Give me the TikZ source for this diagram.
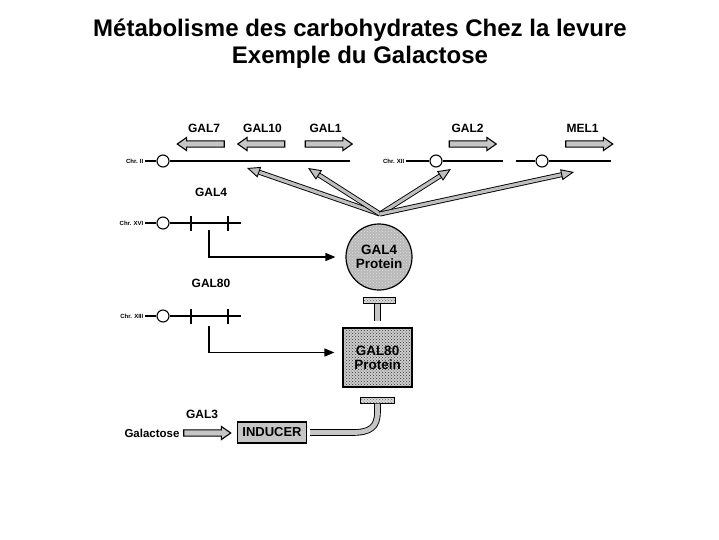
\documentclass[tikz,border=0pt]{standalone}
\usepackage{fontspec}
\setmainfont{Liberation Sans}
\usetikzlibrary{arrows.meta,positioning,shapes.arrows,patterns}

\begin{document}
\begin{tikzpicture}[x=1pt,y=-1pt,>=Latex,
gene/.style={font=\fontsize{12}{14}\selectfont\bfseries},
chr/.style={font=\fontsize{6}{7}\selectfont\bfseries,anchor=east,inner sep=1.5pt},
chrline/.style={line width=1.6pt},
centro/.style={circle,draw,line width=1.1pt,fill=white,minimum size=12pt,inner sep=0pt},
genemark/.style={line width=1.4pt},
genearrow/.style={single arrow,draw,line width=1.1pt,fill=gray!45,inner sep=2.6pt,
  single arrow head extend=3.4pt,single arrow head indent=0pt,single arrow tip angle=70,
  minimum height=47pt},
fat/.style={draw,line width=0.9pt,double=gray!50,double distance=3.2pt},
fatarrow/.style={fat,-{Triangle[length=13pt,width=11pt,fill=gray!50]}},
tstem/.style={draw,line width=0.9pt,double=gray!45,double distance=4.8pt},
elbow/.style={line width=1.4pt,-{Triangle[length=10pt,width=8pt]}},
protein/.style={draw,line width=1.2pt,align=center,font=\fontsize{13.5}{14}\selectfont\bfseries},
tbar/.style={draw,line width=0.9pt,preaction={fill=gray!30},pattern=crosshatch dots,
  pattern color=gray!80!black,minimum width=32pt,minimum height=6pt,inner sep=0pt}]
\useasboundingbox (0,0) rectangle (719,539);

% title
\node[font=\fontsize{24}{27}\selectfont\bfseries,align=center] (title) at (360,44)
  {Métabolisme des carbohydrates Chez la levure\\Exemple du Galactose};

% chromosome II and XII with the structural genes
\node[chr] (c2) at (145,161) {Chr. II};
\node[centro] (cen2) at (163,161) {};
\coordinate (c2end) at (350,161);
\draw[chrline] (c2.east) -- (cen2) -- (c2end);

\node[chr] (c12) at (406,161) {Chr. XII};
\node[centro] (cen12) at (436,161) {};
\coordinate (c12end) at (503,161);
\draw[chrline] (c12.east) -- (cen12) -- (c12end);
\node[centro] (cen12b) at (542,161) {};
\coordinate (c12b) at (516,161);
\coordinate (c12bend) at (611,161);
\draw[chrline] (c12b) -- (cen12b) -- (c12bend);

\node[genearrow,shape border rotate=180] (a7) at (203,144) {};
\node[genearrow,shape border rotate=180] (a10) at (263.5,144) {};
\node[genearrow] (a1) at (326.5,144) {};
\node[genearrow] (a2) at (470.5,144) {};
\node[genearrow] (am1) at (587,144) {};
\node[gene] (l7) at (204,128) {GAL7};
\node[gene] (l10) at (262.5,128) {GAL10};
\node[gene] (l1) at (325.5,128) {GAL1};
\node[gene] (l2) at (467.5,128) {GAL2};
\node[gene] (lm1) at (582.5,128) {MEL1};

% GAL4 protein acting on the genes
\node[protein,circle,minimum size=66pt,inner sep=0pt,preaction={fill=gray!55},
  pattern=crosshatch dots,pattern color=gray!25] (g4) at (379,257) {GAL4\\Protein};
\coordinate (hub) at (380,214);
\coordinate (t10) at (247,168);
\coordinate (t1) at (308,168);
\coordinate (t2) at (451,169);
\coordinate (tm1) at (574,172);
\draw[fatarrow] (hub) -- (t10);
\draw[fatarrow] (hub) -- (t1);
\draw[fatarrow] (hub) -- (t2);
\draw[fatarrow] (hub) -- (tm1);

% regulatory genes
\node[gene] (l4) at (211,192) {GAL4};
\node[chr] (c16) at (145,223) {Chr. XVI};
\node[centro] (cen16) at (163,223) {};
\coordinate (c16end) at (241,223);
\draw[chrline] (c16.east) -- (cen16) -- (c16end);
\draw[genemark] (191,216) -- (191,231);
\draw[genemark] (228,216) -- (228,231);
\coordinate (e4) at (209,230);
\draw[elbow,shorten >=10pt] (e4) |- (g4.west);

\node[gene] (l80) at (211,283) {GAL80};
\node[chr] (c13) at (145,316) {Chr. XIII};
\node[centro] (cen13) at (163,316) {};
\coordinate (c13end) at (241,316);
\draw[chrline] (c13.east) -- (cen13) -- (c13end);
\draw[genemark] (191,309) -- (191,324);
\draw[genemark] (228,309) -- (228,324);

\node[protein,minimum width=69pt,minimum height=59pt,preaction={fill=gray!40},
  pattern=crosshatch dots,pattern color=black!80] (g80) at (377.5,357.5) {GAL80\\Protein};
\coordinate (e80) at (209,326);
\draw[elbow,shorten >=8pt] (e80) |- ([yshift=5pt]g80.west);

% GAL80 blocks GAL4
\node[tbar,below=6pt of g4] (bar4) {};
\draw[tstem] ([yshift=6pt]g80.north) -- (g80.north |- bar4.south);

% galactose gives the inducer
\node[font=\fontsize{11.5}{13}\selectfont\bfseries] (gal) at (152,433) {Galactose};
\node[genearrow] (a3) at (205,433) {};
\node[gene] (l3) at (202,414) {GAL3};
\node[draw,line width=1.2pt,fill=gray!45,minimum width=69pt,minimum height=21pt,inner sep=1pt,
  font=\fontsize{13}{14}\selectfont\bfseries] (ind) at (272,432.5) {INDUCER};

% inducer blocks GAL80
\node[tbar,minimum width=34pt,below=9pt of g80] (bar80) {};
\draw[tstem] ([xshift=3pt]ind.east) -- ++(42,0) .. controls +(18,0) and +(0,16) .. ([yshift=-8pt]bar80.south) -- (bar80.south);
\end{tikzpicture}
\end{document}
